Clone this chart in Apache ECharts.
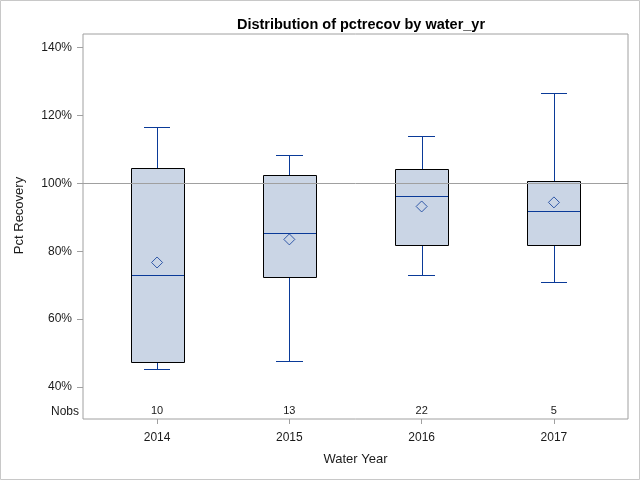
<!DOCTYPE html>
<html>
<head>
<meta charset="utf-8">
<script src="https://cdn.jsdelivr.net/npm/echarts@6/dist/echarts.min.js"></script>
<style>html,body{margin:0;padding:0;background:#fff}#chart{width:640px;height:480px}</style>
</head>
<body>
<div id="chart"></div>
<script>
// ---- data ----
const categories = ['2014', '2015', '2016', '2017'];
const whiskerLow = [45.2, 47.7, 72.9, 71.1];
const q1 = [47.3, 72.3, 81.8, 81.8];
const median = [73.0, 85.3, 96.2, 91.8];
const q3 = [104.4, 102.4, 104.1, 100.6];
const whiskerHigh = [116.5, 108.5, 114.1, 126.5];
const means = [76.7, 83.5, 93.2, 94.4];
const nobs = [10, 13, 22, 5];
const yTicks = [40, 60, 80, 100, 120, 140];
const refValue = 100;
const yMin = 30.6, yMax = 144;
const nobsRowValue = 32.9;

const FONT = '"Liberation Sans", Arial, sans-serif';
const BLUE = '#0a3a98';
const FILL = '#cad5e5';
const GRAY = '#a0a0a0';
const TXT = '#1a1a1a';

const idx = categories.map((c, i) => i);
const boxData = idx.map(i => [i, whiskerLow[i], q1[i], median[i], q3[i], whiskerHigh[i]]);
const meanData = idx.map(i => [i, means[i]]);
const nobsData = idx.map(i => [i, nobsRowValue, nobs[i]]);

const px = v => Math.round(v) + 0.5;

const chart = echarts.init(document.getElementById('chart'));
chart.setOption({
  animation: false,
  backgroundColor: '#fff',
  title: {
    text: 'Distribution of pctrecov by water_yr',
    left: 356, top: 12, textAlign: 'center',
    textStyle: { fontFamily: FONT, fontSize: 14.5, fontWeight: 'bold', color: '#000' }
  },
  graphic: [{
    type: 'rect', silent: true, z: -1,
    shape: { x: 0.5, y: 0.5, width: 639, height: 479 },
    style: { fill: 'none', stroke: '#c8c8c8', lineWidth: 1 }
  }],
  grid: {
    left: 83, right: 12, top: 34, bottom: 61,
    show: true, borderColor: GRAY, borderWidth: 1, backgroundColor: 'transparent'
  },
  xAxis: {
    type: 'value', min: -0.56, max: 3.56,
    name: 'Water Year', nameLocation: 'middle', nameGap: 34,
    nameTextStyle: { fontFamily: FONT, fontSize: 13, color: TXT },
    axisLine: { show: false, onZero: false },
    splitLine: { show: false },
    axisTick: { show: true, customValues: idx, length: 5, lineStyle: { color: GRAY } },
    axisLabel: {
      customValues: idx, margin: 13,
      formatter: v => categories[Math.round(v)],
      fontFamily: FONT, fontSize: 12, color: TXT
    }
  },
  yAxis: {
    type: 'value', min: yMin, max: yMax,
    name: 'Pct Recovery', nameLocation: 'middle', nameGap: 57,
    nameTextStyle: { fontFamily: FONT, fontSize: 13, color: TXT, padding: [0, 0, 0, 22] },
    axisLine: { show: false, onZero: false },
    splitLine: { show: false },
    axisTick: { show: true, customValues: yTicks, length: 6, lineStyle: { color: GRAY } },
    axisLabel: {
      customValues: [nobsRowValue].concat(yTicks), margin: 4,
      formatter: v => (v < yTicks[0] - 1 ? '{n|Nobs}' : '{p|' + v + '%}'),
      fontFamily: FONT, fontSize: 12, color: TXT,
      rich: {
        n: { fontFamily: FONT, fontSize: 12, color: TXT },
        p: { fontFamily: FONT, fontSize: 12, color: TXT, padding: [0, 7, 0, 0] }
      }
    }
  },
  series: [
    {
      type: 'custom', name: 'box', silent: true,
      data: boxData,
      encode: { x: 0, y: [1, 2, 3, 4, 5] },
      renderItem: function (params, api) {
        const i = api.value(0);
        const x = api.coord([i, api.value(1)])[0];
        const yLo = api.coord([i, api.value(1)])[1];
        const yQ1 = api.coord([i, api.value(2)])[1];
        const yMed = api.coord([i, api.value(3)])[1];
        const yQ3 = api.coord([i, api.value(4)])[1];
        const yHi = api.coord([i, api.value(5)])[1];
        const bw = api.size([0.4, 0])[0];
        const cw = bw / 2;
        const xc = px(x);
        const ls = { stroke: BLUE, lineWidth: 1 };
        const bl = Math.round(x - bw / 2) + 0.5, br = Math.round(x + bw / 2) + 0.5;
        return {
          type: 'group',
          children: [
            { type: 'line', shape: { x1: xc, y1: px(yHi), x2: xc, y2: px(yQ3) }, style: ls },
            { type: 'line', shape: { x1: xc, y1: px(yQ1), x2: xc, y2: px(yLo) }, style: ls },
            { type: 'line', shape: { x1: Math.round(x - cw / 2), y1: px(yHi), x2: Math.round(x + cw / 2), y2: px(yHi) }, style: ls },
            { type: 'line', shape: { x1: Math.round(x - cw / 2), y1: px(yLo), x2: Math.round(x + cw / 2), y2: px(yLo) }, style: ls },
            { type: 'rect', shape: { x: bl, y: px(yQ3), width: br - bl, height: px(yQ1) - px(yQ3) },
              style: { fill: FILL, stroke: '#000', lineWidth: 1 } },
            { type: 'line', shape: { x1: bl + 0.5, y1: px(yMed), x2: br - 0.5, y2: px(yMed) }, style: ls }
          ]
        };
      }
    },
    {
      type: 'scatter', name: 'mean', silent: true,
      data: meanData,
      symbol: 'diamond', symbolSize: 11,
      itemStyle: { color: 'rgba(0,0,0,0)', borderColor: BLUE, borderWidth: 1 },
      z: 5,
      markLine: {
        silent: true, symbol: 'none', z: 6,
        label: { show: false },
        lineStyle: { color: GRAY, width: 1, type: 'solid' },
        data: [{ yAxis: refValue }]
      }
    },
    {
      type: 'custom', name: 'nobs', silent: true,
      data: nobsData,
      encode: { x: 0, y: 1 },
      renderItem: function (params, api) {
        const p = api.coord([api.value(0), api.value(1)]);
        return {
          type: 'text',
          style: {
            text: String(api.value(2)), x: p[0], y: p[1],
            align: 'center', verticalAlign: 'middle',
            font: '11px ' + FONT, fill: TXT
          }
        };
      }
    }
  ]
});
</script>
</body>
</html>
